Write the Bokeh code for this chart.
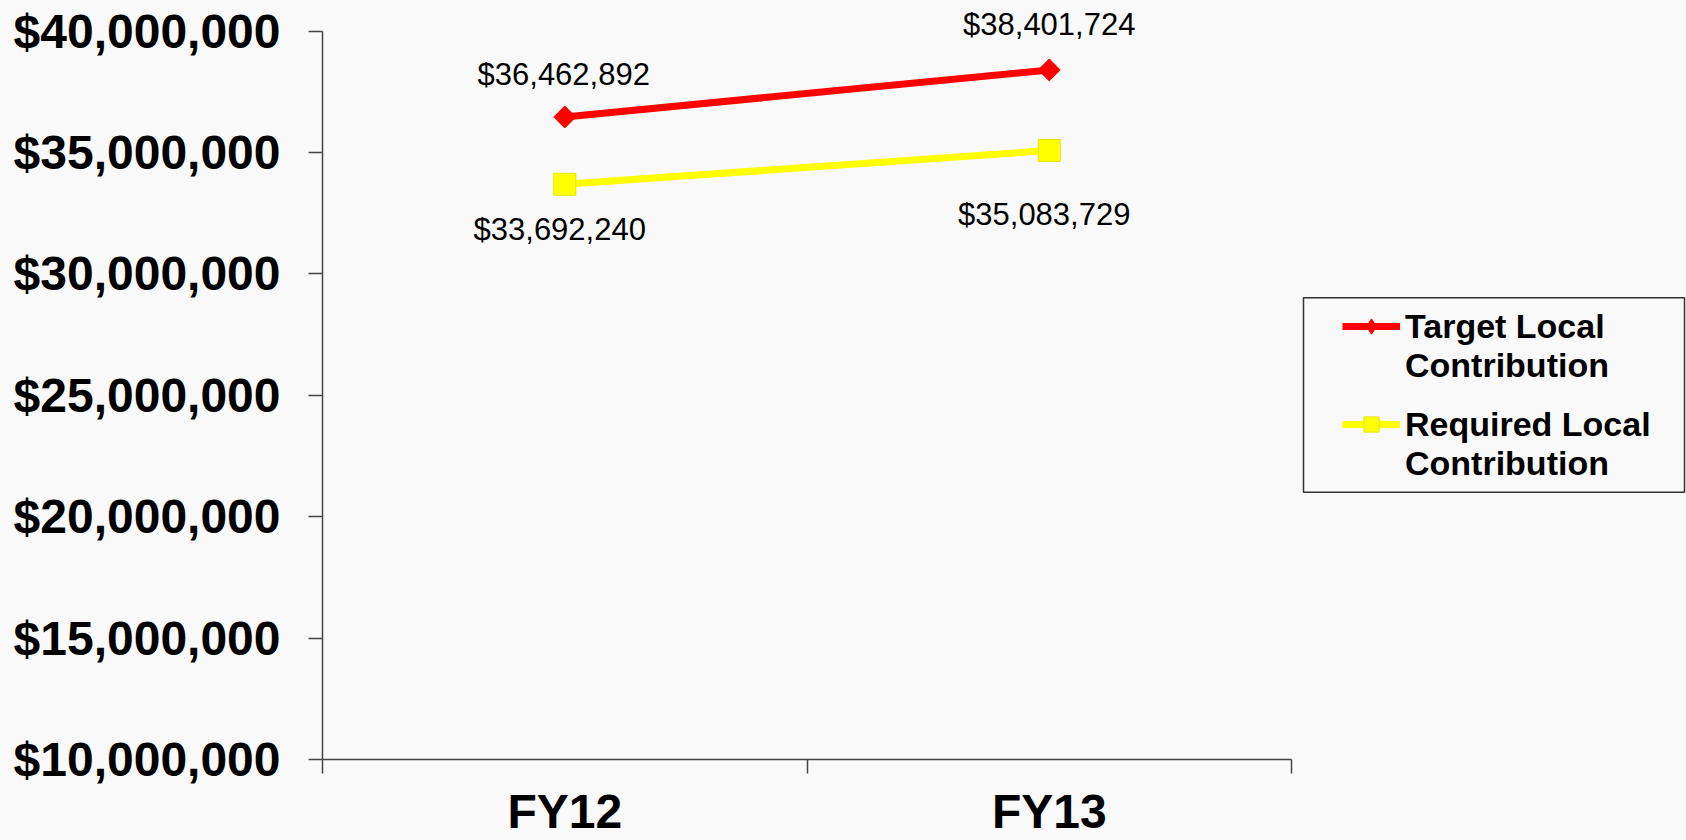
import math
from bokeh.plotting import figure
from bokeh.models import (ColumnDataSource, Range1d, LinearAxis, FixedTicker,
                          NumeralTickFormatter, Legend, LegendItem, LabelSet, BoxAnnotation)
from bokeh.core.properties import value
from bokeh.embed import file_html
from bokeh.resources import INLINE

# ---- data ----
categories = ["FY12", "FY13"]
target_local = [36462892, 38401724]
required_local = [33692240, 35083729]
legend_lines = [["Target Local", "Contribution"], ["Required Local", "Contribution"]]
y_ticks = [10000000, 15000000, 20000000, 25000000, 30000000, 35000000, 40000000]

FONT = "Liberation Sans"
BG = "#F9F9F9"
AXIS = "#444444"
RED = "#FF0000"
YELLOW = "#FFFF00"

# ---- layout (pixels) ----
W, H = 1686, 840
FRAME_L, AXIS_R, FRAME_B = 322, 1291, 761   # x axis spans FRAME_L..AXIS_R
Y_TOP_PX = 30.7                              # top tick position
n_cat = len(categories)
cat_pos = [i + 0.5 for i in range(n_cat)]     # category centres on the x scale
y_lo, y_hi = y_ticks[0], y_ticks[-1]
x_end = n_cat * (W - FRAME_L) / (AXIS_R - FRAME_L)
y_end = y_hi + (y_hi - y_lo) * Y_TOP_PX / (FRAME_B - Y_TOP_PX)


def xd(px):
    return (px - FRAME_L) / (AXIS_R - FRAME_L) * n_cat


def yd(px):
    return y_lo + (FRAME_B - px) / (FRAME_B - Y_TOP_PX) * (y_hi - y_lo)


p = figure(width=W, height=H,
           x_range=Range1d(0, x_end), y_range=Range1d(y_lo, y_end),
           output_backend="svg", toolbar_location=None,
           x_axis_location=None, y_axis_location=None,
           min_border_left=FRAME_L, min_border_right=0, min_border_top=0,
           min_border_bottom=H - FRAME_B,
           background_fill_color=BG, border_fill_color=BG, outline_line_color=None)
p.grid.visible = False

# y axis (line limited to the tick span)
yaxis = LinearAxis(ticker=FixedTicker(ticks=y_ticks), bounds=(y_lo, y_hi),
                   formatter=NumeralTickFormatter(format="$0,0"),
                   axis_line_color=AXIS, axis_line_width=1.5,
                   major_tick_line_color=AXIS, major_tick_line_width=1.5,
                   major_tick_in=0, major_tick_out=14,
                   minor_tick_line_color=None,
                   major_label_standoff=28,
                   major_label_text_font=FONT, major_label_text_font_style="bold",
                   major_label_text_font_size="48px", major_label_text_color="black")
p.add_layout(yaxis, "left")

# x axis: line + ticks at the category boundaries (no labels)
xtick_axis = LinearAxis(ticker=FixedTicker(ticks=list(range(n_cat + 1))), bounds=(0, n_cat),
                        axis_line_color=AXIS, axis_line_width=1.5,
                        major_tick_line_color=AXIS, major_tick_line_width=1.5,
                        major_tick_in=0, major_tick_out=14,
                        minor_tick_line_color=None,
                        major_label_standoff=0, major_label_text_font_size="0px",
                        major_label_text_alpha=0)
p.add_layout(xtick_axis, "below")

# x axis: category labels at the centres
xlab_axis = LinearAxis(ticker=FixedTicker(ticks=cat_pos),
                       major_label_overrides={pos: c for pos, c in zip(cat_pos, categories)},
                       axis_line_color=None, major_tick_line_color=None,
                       major_tick_in=0, major_tick_out=0, minor_tick_line_color=None,
                       major_label_standoff=11,
                       major_label_text_font=FONT, major_label_text_font_style="bold",
                       major_label_text_font_size="48px", major_label_text_color="black")
p.add_layout(xlab_axis, "below")

# series
src_t = ColumnDataSource(dict(x=cat_pos, cat=categories, y=target_local,
                              label=["${:,}".format(v) for v in target_local],
                              yo=[42, 45], xo=[-1, 0]))
src_r = ColumnDataSource(dict(x=cat_pos, cat=categories, y=required_local,
                              label=["${:,}".format(v) for v in required_local],
                              yo=[-45, -64], xo=[-5, -5]))

rt_line = p.line("x", "y", source=src_t, line_color=RED, line_width=7)
# diamond (used for the legend swatch), fully covered by the rotated square below
rt_diam = p.scatter("x", "y", source=src_t, marker="diamond", size=20,
                    fill_color=RED, line_color=RED)
p.scatter("x", "y", source=src_t, marker="square", angle=math.pi / 4, size=15.5,
          fill_color=RED, line_color=RED)
rr_line = p.line("x", "y", source=src_r, line_color=YELLOW, line_width=7)
rr_mark = p.scatter("x", "y", source=src_r, marker="square", size=22,
                    fill_color=YELLOW, line_color="#E8E800")
blank = p.line("x", "y", source=src_t, line_alpha=0)   # swatch-less legend rows

for src in (src_t, src_r):
    p.add_layout(LabelSet(x="x", y="y", text="label", source=src,
                          x_offset="xo", y_offset="yo",
                          text_font=value(FONT), text_font_size=value("31px"),
                          text_color="black",
                          text_align="center", text_baseline="middle"))

# ---- legend: box + two two-line entries ----
LEG_L, LEG_R, LEG_T, LEG_B = 1303, 1684, 298, 493
p.add_layout(BoxAnnotation(left=xd(LEG_L), right=xd(LEG_R), top=yd(LEG_T), bottom=yd(LEG_B),
                           fill_alpha=0, line_color="#333333", line_width=1.5,
                           line_alpha=1))


def make_legend(lines, swatch, top_px):
    lg = Legend(items=[LegendItem(label=lines[0], renderers=swatch),
                       LegendItem(label=lines[1], renderers=[blank])],
                glyph_width=58, glyph_height=38, label_height=38, label_standoff=5, spacing=0,
                label_text_font=FONT, label_text_font_style="bold",
                label_text_font_size="34px", label_text_color="black",
                border_line_color=None, background_fill_alpha=0,
                margin=0, padding=0)
    lg.location = (1342 - FRAME_L, FRAME_B - (top_px + 78))
    return lg


p.add_layout(make_legend(legend_lines[0], [rt_line, rt_diam], 308.5))
p.add_layout(make_legend(legend_lines[1], [rr_line, rr_mark], 406.5))

html = file_html(p, INLINE)
html = html.replace("</head>", "<style>body{background:#F9F9F9;}</style></head>", 1)
open("out.html", "w").write(html)
